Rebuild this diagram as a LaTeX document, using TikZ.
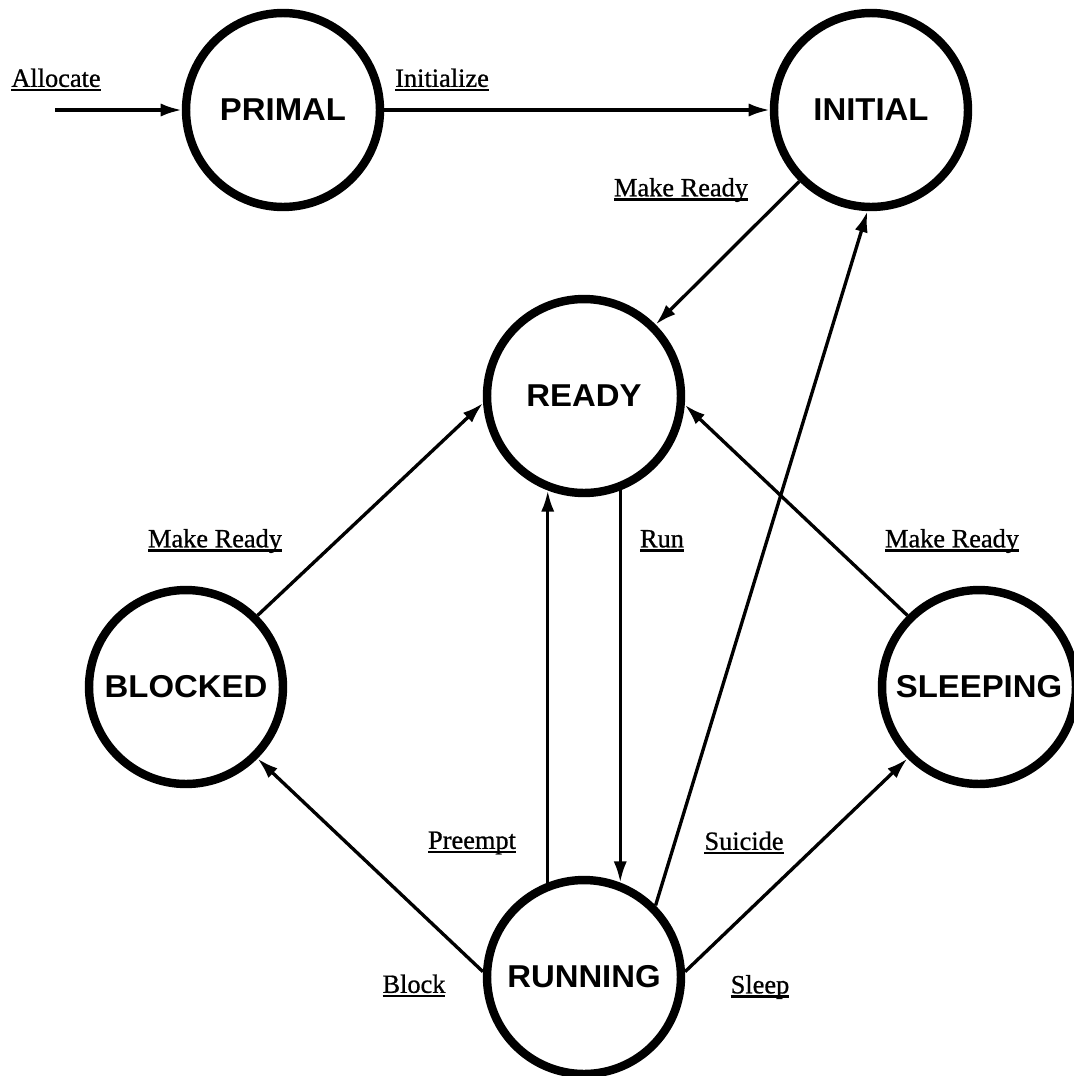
\documentclass[tikz,border=0pt]{standalone}
\usepackage{fontspec}
\setmainfont{Liberation Serif}
\setsansfont{Liberation Sans}[FakeStretch=1.04]
\newfontfamily\labelfont{Liberation Serif}[FakeBold=0.8]
\usetikzlibrary{arrows.meta}
\tikzset{>={Latex[length=12pt,width=7.5pt]}}
\newcommand{\ulabel}[1]{\setbox0\hbox{#1}\leavevmode\rlap{\rule[-2.6pt]{\wd0}{1.4pt}}\box0}
\tikzset{
  state/.style={circle,draw,line width=4.8pt,minimum size=3.88cm,inner sep=0pt,
    font=\sffamily\bfseries\fontsize{18}{20}\selectfont},
  trans/.style={->,line width=1.9pt},
  translabel/.style={inner sep=0pt,font=\labelfont\fontsize{15}{17}\selectfont},
}

\begin{document}
\begin{tikzpicture}[x=0.02cm,y=-0.02cm]
  \useasboundingbox (0,0) rectangle (1073,1076);
  % states
  \node[state] (primal)   at (283,110) {PRIMAL};
  \node[state] (initial)  at (871,110) {INITIAL};
  \node[state] (ready)    at (584,396) {READY};
  \node[state] (blocked)  at (186,687) {BLOCKED};
  \node[state] (sleeping) at (979,687) {SLEEPING};
  \node[state] (running)  at (584,977) {RUNNING};
  % labels
  \node[translabel] (lallocate)   at (56,80)   {\ulabel{Allocate}};
  \node[translabel] (linitialize) at (442,80)  {\ulabel{Initialize}};
  \node[translabel] (lreadyinit)  at (681,190) {\ulabel{Make Ready}};
  \node[translabel] (lreadyblock) at (215,541) {\ulabel{Make Ready}};
  \node[translabel] (lreadysleep) at (952,541) {\ulabel{Make Ready}};
  \node[translabel] (lrun)        at (662,541) {\ulabel{Run}};
  \node[translabel] (lpreempt)    at (472,843) {\ulabel{Preempt}};
  \node[translabel] (lsuicide)    at (744,843) {\ulabel{Suicide}};
  \node[translabel] (lblock)      at (414,986) {\ulabel{Block}};
  \node[translabel] (lsleep)      at (760,987) {\ulabel{Sleep}};
  % transitions
  \coordinate (alloc) at (55,110);
  \draw[trans] (alloc) -- (primal);
  \draw[trans] (primal) -- (initial);
  \draw[trans] (initial) -- (ready);
  \draw[trans] (blocked.45) -- (ready.184);
  \draw[trans] (sleeping.135) -- (ready.-5);
  \draw[trans] (ready.-69) -- (running.69);
  \draw[trans] (running.111) -- (ready.-111);
  \draw[trans] (running.177) -- (blocked.-45);
  \draw[trans] (running.3) -- (sleeping.-135);
  \draw[trans] (running.45) -- (initial.268);
\end{tikzpicture}
\end{document}
